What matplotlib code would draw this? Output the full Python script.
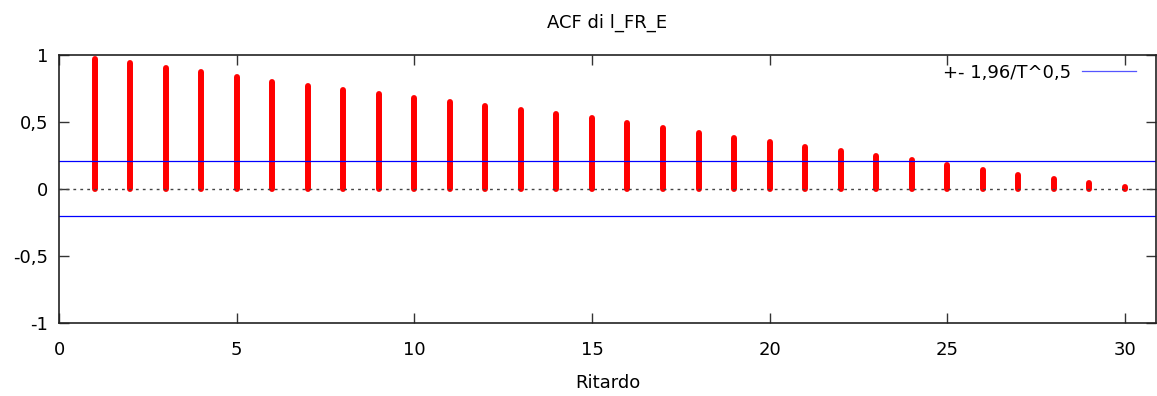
"""
ACF plot for l_FR_E (gretl style).
"""
import numpy as np
import matplotlib.pyplot as plt
from matplotlib.ticker import FuncFormatter

lags = np.arange(1, 31)
acf = [0.969, 0.936, 0.902, 0.867, 0.832, 0.797, 0.770, 0.738, 0.708, 0.680,
       0.650, 0.621, 0.591, 0.559, 0.526, 0.492, 0.452, 0.417, 0.380, 0.350,
       0.315, 0.284, 0.248, 0.213, 0.179, 0.142, 0.104, 0.072, 0.040, 0.015]
bound = 0.206
yticks = [-1, -0.5, 0, 0.5, 1]
xticks = [0, 5, 10, 15, 20, 25, 30]


def comma(v, pos):
    s = f"{v:g}"
    return s.replace(".", ",")


plt.rcParams['font.family'] = 'DejaVu Sans'
fig = plt.figure(figsize=(11.57, 3.96), dpi=100)
ax = fig.add_axes([0.051, 0.1843, 0.948, 0.6777])

ax.vlines(lags, 0, acf, color='#ff0000', linewidth=4.3, capstyle='round')
ax.axhline(0, color='#444444', linestyle=(0, (2, 3)), linewidth=1)
ax.axhline(bound, color='#0000ff', linewidth=0.9, label='+- 1,96/T^0,5')
ax.axhline(-bound, color='#0000ff', linewidth=0.9)

ax.set_xlim(0, 30.87)
ax.set_ylim(-1, 1)
ax.set_xticks(xticks)
ax.set_yticks(yticks)
ax.yaxis.set_major_formatter(FuncFormatter(comma))
ax.tick_params(direction='in', length=7, width=1, color='#333333',
               top=True, right=True, labelsize=13)
ax.tick_params(axis='x', pad=13)
ax.tick_params(axis='y', pad=8)
for s in ax.spines.values():
    s.set_color('#222222')
    s.set_linewidth(1.2)

ax.set_title("ACF di l_FR_E", fontsize=13, pad=19.5)
ax.set_xlabel("Ritardo", fontsize=13, labelpad=11)
leg = ax.legend(loc='upper right', bbox_to_anchor=(0.9904, 1.0),
                markerfirst=False, frameon=False, fontsize=13,
                handlelength=3.0, handletextpad=0.6, borderaxespad=0.2,
                borderpad=0.3)
for h in leg.get_lines():
    h.set_color('#5555ff')

plt.savefig("out.png")
plt.close()
